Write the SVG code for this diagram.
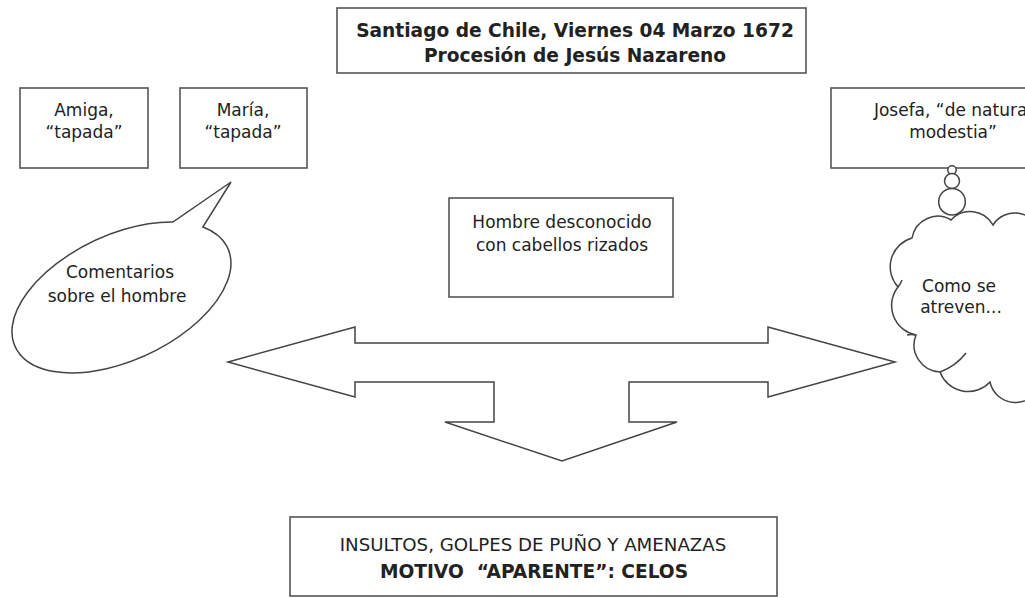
<svg xmlns="http://www.w3.org/2000/svg" width="1025" height="598" viewBox="0 0 1025 598">
<style>
  .box{fill:#fff;stroke:#555;stroke-width:1.6}
  .shape{fill:#fff;stroke:#444;stroke-width:1.5;stroke-linejoin:miter}
  .line{fill:none;stroke:#444;stroke-width:1.5}
  .t{font-family:"DejaVu Sans",Verdana,sans-serif;font-size:17px;fill:#222;text-anchor:middle}
  .b{font-weight:bold;font-size:18.6px}
  .big{font-size:18.2px}
</style>
<rect width="1025" height="598" fill="#fff"/>

<g id="title">
  <rect class="box" x="337" y="8" width="469" height="65"/>
  <text class="t b" x="575" y="37">Santiago de Chile, Viernes 04 Marzo 1672</text>
  <text class="t b" x="575" y="62">Procesión de Jesús Nazareno</text>
</g>

<g id="amiga">
  <rect class="box" x="20" y="88" width="128" height="80"/>
  <text class="t" x="84" y="116">Amiga,</text>
  <text class="t" x="84" y="138">“tapada”</text>
</g>

<g id="maria">
  <rect class="box" x="180" y="88" width="127" height="80"/>
  <text class="t" x="243" y="116">María,</text>
  <text class="t" x="243" y="138">“tapada”</text>
</g>

<g id="josefa">
  <rect class="box" x="831" y="88" width="245" height="80"/>
  <text class="t" x="953" y="116">Josefa, “de natural</text>
  <text class="t" x="953" y="138">modestia”</text>
</g>

<g id="comentarios">
  <path class="shape" d="M 202.8,227 A 117.2 62.8 -25 1 1 172.9,222 L 231,182 Z"/>
  <text class="t" x="120" y="278">Comentarios</text>
  <text class="t" x="117" y="302">sobre el hombre</text>
</g>

<g id="pensamiento">
  <circle class="shape" cx="952" cy="170" r="4.2"/>
  <circle class="shape" cx="952" cy="181" r="7.5"/>
  <circle class="shape" cx="952" cy="201.7" r="13.3"/>
  <path class="shape" d="M 1040,232 A 26 26 0 0 0 993,225 A 26 26 0 0 0 951,220 A 26 26 0 0 0 912,238 A 30 30 0 0 0 898,287 A 30 30 0 0 0 916,335 A 27 27 0 0 0 940,372 A 30 30 0 0 0 990,382 A 26 26 0 0 0 1040,385 Z"/>
  <path class="line" d="M 898,287 q 3,-4 4,-7 M 916,335 q -5,-1 -9,0 M 940,372 q 16,-6 26,-19"/>
  <text class="t" x="959" y="292">Como se</text>
  <text class="t" x="961" y="313">atreven...</text>
</g>

<g id="hombre">
  <rect class="box" x="449" y="198" width="224" height="99"/>
  <text class="t" x="562" y="228">Hombre desconocido</text>
  <text class="t" x="562" y="251">con cabellos rizados</text>
</g>

<g id="connectors">
  <polygon class="shape" points="228,362 355,327 355,343 768,343 768,327 895,362 768,397 768,382 629,382 629,422 677,422 562,461 445,422 494,422 494,382 355,382 355,397"/>
</g>

<g id="resultado">
  <rect class="box" x="290" y="517" width="487" height="79"/>
  <text class="t big" x="533" y="551">INSULTOS, GOLPES DE PUÑO Y AMENAZAS</text>
  <text class="t b" x="534" y="578" xml:space="preserve">MOTIVO  “APARENTE”: CELOS</text>
</g>
</svg>
